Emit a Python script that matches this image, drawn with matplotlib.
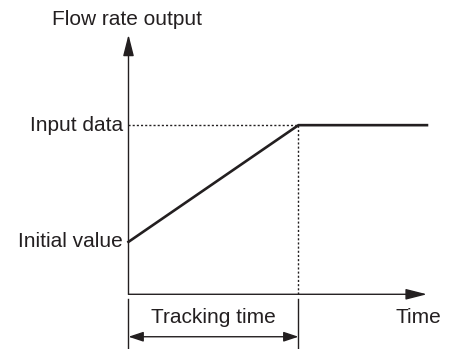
import matplotlib
matplotlib.use("Agg")
import matplotlib.pyplot as plt

# Response curve: ramp from the initial value to the input data over the tracking time
times = [0.0, 1.0, 1.756]
flow = [0.31, 1.0, 1.0]
tracking_time = 1.0
initial_value = 0.31
input_value = 1.0

time_axis_end = 1.756
flow_axis_top = 1.535
guide_top = -0.028
guide_bottom = -0.34
span_arrow_y = -0.251

labels = {
    "y_axis": "Flow rate output",
    "x_axis": "Time",
    "input": "Input data",
    "initial": "Initial value",
    "span": "Tracking time",
}

ink = "#231f20"
plt.rcParams["font.family"] = ["Liberation Sans", "DejaVu Sans"]

fig = plt.figure(figsize=(4.55, 3.49), dpi=100)
ax = fig.add_axes([0, 0, 1, 1])
ax.set_xlim(-0.756, 1.921)
ax.set_ylim(-0.3235, 1.740)
ax.axis("off")

# axes with arrow heads
big_head = dict(arrowstyle="-|>,head_length=1.3,head_width=0.33", mutation_scale=10,
                color=ink, lw=1.0, shrinkA=0, shrinkB=0)
ax.annotate("", xy=(0, flow_axis_top), xytext=(0, 0), arrowprops=big_head)
ax.annotate("", xy=(time_axis_end, 0), xytext=(0, 0), arrowprops=big_head)

# dotted guides to the input level
dot = dict(color=ink, lw=1.0, linestyle=(0, (1.5, 1.5)))
ax.plot([0, tracking_time], [input_value, input_value], **dot)
ax.plot([tracking_time, tracking_time], [0, input_value], **dot)

# vertical markers below the time axis
ax.plot([0, 0], [guide_top, guide_bottom], color=ink, lw=1.0)
ax.plot([tracking_time, tracking_time], [guide_top, guide_bottom], color=ink, lw=1.0)

# double-headed span arrow
span_head = dict(arrowstyle="<|-|>,head_length=0.9,head_width=0.3", mutation_scale=10,
                 color=ink, lw=1.0, shrinkA=0, shrinkB=0)
ax.annotate("", xy=(0, span_arrow_y), xytext=(tracking_time, span_arrow_y),
            arrowprops=span_head)

# response curve
ax.plot(times, flow, color=ink, lw=1.9, solid_joinstyle="miter")

fs = 15
ax.text(-0.006, 1.622, labels["y_axis"], fontsize=fs, ha="center", va="center", color=ink)
ax.text(1.703, -0.140, labels["x_axis"], fontsize=fs, ha="center", va="center", color=ink)
ax.text(-0.034, input_value, labels["input"], fontsize=fs, ha="right", va="center", color=ink)
ax.text(-0.034, initial_value, labels["initial"], fontsize=fs, ha="right", va="center", color=ink)
ax.text(tracking_time / 2, -0.140, labels["span"], fontsize=fs, ha="center", va="center", color=ink)

fig.savefig("out.png", dpi=100, facecolor="white")
